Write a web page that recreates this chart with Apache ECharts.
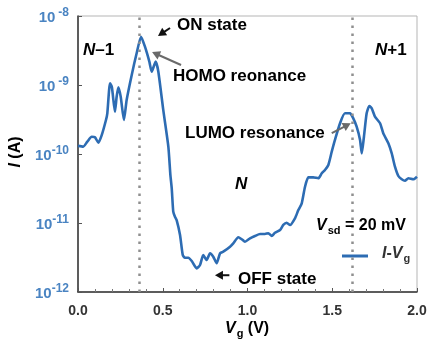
<!DOCTYPE html>
<html>
<head>
<meta charset="utf-8">
<script src="https://cdn.jsdelivr.net/npm/echarts@6/dist/echarts.min.js"></script>
<style>
  html, body { margin: 0; padding: 0; background: #fff; }
  #chart { width: 430px; height: 351px; }
</style>
</head>
<body>
<div id="chart"></div>
<script>
// Gate sweep: gate voltage (V) and drain current (A)
const gateVoltage = [
  0.000, 0.031, 0.055, 0.081, 0.100, 0.120, 0.140, 0.165, 0.173, 0.189,
  0.200, 0.218, 0.228, 0.238, 0.252, 0.271, 0.287, 0.317, 0.346, 0.372,
  0.395, 0.421, 0.435, 0.458, 0.474, 0.503, 0.533,
  0.545, 0.553, 0.562, 0.572, 0.582, 0.602, 0.618, 0.631, 0.651, 0.671,
  0.700, 0.720, 0.739, 0.759, 0.779, 0.798,
  0.818, 0.838, 0.857, 0.897, 0.916, 0.946, 0.966, 0.985, 1.015, 1.044,
  1.074, 1.103, 1.123, 1.143, 1.162, 1.192, 1.211, 1.231, 1.251, 1.280,
  1.300, 1.320, 1.339, 1.359, 1.388, 1.418, 1.438, 1.457, 1.477,
  1.497, 1.516, 1.546, 1.575, 1.605, 1.624, 1.644, 1.664, 1.674, 1.687,
  1.703, 1.719, 1.733, 1.752, 1.782, 1.801, 1.831, 1.851, 1.870, 1.890,
  1.910, 1.929, 1.949, 1.978, 2.000
];
const current = [
  1.31e-10, 1.28e-10, 1.51e-10, 1.78e-10, 1.75e-10, 1.46e-10, 1.88e-10, 3.11e-10, 3.89e-10, 1.06e-9,
  9.27e-10, 4.10e-10, 6.76e-10, 9.27e-10, 6.76e-10, 3.11e-10, 6.07e-10, 1.40e-9, 2.88e-9, 5.01e-9,
  3.59e-9, 2.18e-9, 1.56e-9, 2.18e-9, 1.56e-9, 4.35e-10, 1.28e-10,
  4.97e-11, 3.18e-11, 1.46e-11, 1.23e-11, 1.10e-11, 6.70e-12, 3.44e-12, 3.14e-12, 3.14e-12, 2.81e-12,
  2.20e-12, 2.46e-12, 3.44e-12, 2.91e-12, 3.64e-12, 3.25e-12,
  2.61e-12, 3.64e-12, 3.84e-12, 4.54e-12, 5.08e-12, 6.21e-12, 5.81e-12, 5.36e-12, 6.00e-12, 6.48e-12,
  6.93e-12, 6.93e-12, 7.10e-12, 6.48e-12, 7.22e-12, 7.92e-12, 9.36e-12, 1.01e-11, 9.36e-12, 1.17e-11,
  1.54e-11, 1.93e-11, 3.33e-11, 4.59e-11, 4.59e-11, 4.45e-11, 5.25e-11, 5.86e-11, 6.93e-11,
  1.08e-10, 1.60e-10, 2.79e-10, 3.89e-10, 3.89e-10, 3.29e-10, 2.49e-10, 1.60e-10, 1.02e-10, 1.78e-10,
  3.89e-10, 4.97e-10, 4.59e-10, 3.48e-10, 2.79e-10, 2.00e-10, 1.43e-10, 1.02e-10, 6.55e-11, 4.80e-11,
  4.30e-11, 4.10e-11, 4.45e-11, 4.30e-11, 4.69e-11
];

// Axis ranges and tick labels
const xTickLabels = ['0.0', '0.5', '1.0', '1.5', '2.0'];
const yExponents = [-12, -11, -10, -9, -8];

// Gate voltages of the HOMO and LUMO resonances (dotted guides)
const resonanceVg = [0.362, 1.62];

// Annotation arrows, tail -> head, in (Vg, I) coordinates
const arrowTails = [[0.543, 6.7e-9], [0.608, 1.95e-9], [1.497, 2.0e-10], [0.893, 1.75e-12]];
const arrowHeads = [[0.472, 5.13e-9], [0.437, 3.0e-9], [1.609, 2.79e-10], [0.808, 1.75e-12]];
const arrowColors = ['#111111', '#6a6a6a', '#6a6a6a', '#111111'];

const FONT = '"Liberation Sans", Arial, sans-serif';
const BLUE_TEXT = '#4a84c2';
const LINE_BLUE = '#2d6cb3';

const chart = echarts.init(document.getElementById('chart'), null, { renderer: 'canvas' });

const seriesData = gateVoltage.map((v, i) => [v, current[i]]);

const richBase = (color, size) => ({
  i: { fontFamily: FONT, fontSize: size, fontWeight: 'bold', fontStyle: 'italic', color, lineHeight: 20, verticalAlign: 'top' },
  n: { fontFamily: FONT, fontSize: size, fontWeight: 'bold', color, lineHeight: 20, verticalAlign: 'top' },
  sub: { fontFamily: FONT, fontSize: 11, fontWeight: 'bold', color, lineHeight: 12, padding: [7, 0, 0, 1], verticalAlign: 'top' }
});

chart.setOption({
  animation: false,
  backgroundColor: '#ffffff',
  grid: {
    left: 78, top: 16, right: 13, bottom: 59,
    show: true, borderColor: '#b5b5b5', borderWidth: 1, backgroundColor: 'transparent'
  },
  legend: {
    left: 337, top: 241,
    icon: 'rect', itemWidth: 26, itemHeight: 3, itemGap: 0,
    data: ['I-Vg'],
    formatter: () => '{gap|}{i|I}{n|-}{i|V}{sub|g}',
    textStyle: {
      rich: Object.assign({ gap: { width: 9 } }, richBase('#333', 16))
    }
  },
  xAxis: {
    type: 'value', min: 0, max: 2, interval: 0.5,
    axisLine: { show: true, onZero: false, lineStyle: { color: '#333', width: 1.5 } },
    axisTick: { show: true, inside: true, length: 4, lineStyle: { color: '#555' } },
    minorTick: { show: true, splitNumber: 5, length: 3, lineStyle: { color: '#777' } },
    splitLine: { show: false },
    axisLabel: {
      margin: 12, color: '#333', fontFamily: FONT, fontSize: 14, fontWeight: 'bold',
      formatter: v => xTickLabels[Math.round(v / 0.5)]
    }
  },
  yAxis: {
    type: 'log', logBase: 10, min: 1e-12, max: 1e-8,
    axisLine: { show: true, lineStyle: { color: '#333', width: 1.5 } },
    axisTick: { show: true, inside: true, length: 4, lineStyle: { color: '#555' } },
    splitLine: { show: false },
    axisLabel: {
      margin: 9,
      formatter: v => {
        const e = Math.round(Math.log10(v));
        return '{b|10}' + (e > -10 ? '{sp|' + e + '}' : '{s|' + e + '}');
      },
      rich: {
        b: { fontFamily: FONT, fontSize: 15, fontWeight: 'bold', color: BLUE_TEXT, lineHeight: 18, padding: [4, 0, 0, 0], verticalAlign: 'bottom' },
        s: { fontFamily: FONT, fontSize: 12, fontWeight: 'bold', color: BLUE_TEXT, lineHeight: 12, verticalAlign: 'top' },
        sp: { fontFamily: FONT, fontSize: 12, fontWeight: 'bold', color: BLUE_TEXT, lineHeight: 12, verticalAlign: 'top', padding: [0, 0, 0, 3] }
      }
    }
  },
  series: [{
    name: 'I-Vg',
    type: 'line',
    data: seriesData,
    showSymbol: false,
    smooth: 0.2,
    lineStyle: { color: LINE_BLUE, width: 2.6 },
    itemStyle: { color: LINE_BLUE },
    z: 3,
    markLine: {
      silent: true,
      symbol: ['none', 'none'],
      label: { show: false },
      lineStyle: { color: '#8f8f8f', width: 2.5, type: [2.5, 5.5] },
      data: resonanceVg.map(v => ({ xAxis: v }))
    }
  }]
});

// Text annotations
const label = (x, y, text, rich) => ({
  type: 'text', x, y, z: 10,
  style: { text, rich, align: 'left', verticalAlign: 'middle', fontFamily: FONT, fontSize: 16, fontWeight: 'bold' }
});

function arrowShape(p0, p1, color) {
  const dx = p1[0] - p0[0], dy = p1[1] - p0[1];
  const len = Math.hypot(dx, dy);
  const ux = dx / len, uy = dy / len;
  const hl = 8, hw = 4.5;
  const bx = p1[0] - ux * hl, by = p1[1] - uy * hl;
  return [
    { type: 'line', z: 10, shape: { x1: p0[0], y1: p0[1], x2: bx + ux * 1.5, y2: by + uy * 1.5 }, style: { stroke: color, lineWidth: 2 } },
    { type: 'polygon', z: 10, shape: { points: [[p1[0], p1[1]], [bx - uy * hw, by + ux * hw], [bx + uy * hw, by - ux * hw]] }, style: { fill: color } }
  ];
}

const arrows = [];
arrowTails.forEach((t, k) => {
  const p0 = chart.convertToPixel({ gridIndex: 0 }, t);
  const p1 = chart.convertToPixel({ gridIndex: 0 }, arrowHeads[k]);
  arrows.push(...arrowShape(p0, p1, arrowColors[k]));
});

const gray = '#6a6a6a';
chart.setOption({
  graphic: [
    // y-axis title
    {
      type: 'text', x: 16, y: 152, rotation: Math.PI / 2, z: 10,
      style: {
        text: '{i|I}{n| (A)}', align: 'center', verticalAlign: 'middle',
        rich: {
          i: { fontFamily: FONT, fontSize: 16, fontWeight: 'bold', fontStyle: 'italic', color: BLUE_TEXT },
          n: { fontFamily: FONT, fontSize: 16, fontWeight: 'bold', color: BLUE_TEXT }
        }
      }
    },
    // x-axis title
    label(225, 331, '{i|V}{sub|g}{n| (V)}', richBase('#333', 16)),
    label(177, 27, '{n|ON state}', richBase('#111', 17)),
    label(173, 78, '{n|HOMO reonance}', richBase(gray, 17)),
    label(185, 135, '{n|LUMO resonance}', richBase(gray, 17)),
    label(238, 281, '{n|OFF state}', richBase('#111', 17)),
    label(83, 52, '{i|N}{n|–1}', richBase(gray, 17)),
    label(375, 52, '{i|N}{n|+1}', richBase(gray, 17)),
    label(235, 186, '{i|N}', richBase(gray, 17)),
    label(316, 228, '{i|V}{sub|sd}{n| = 20 mV}', richBase('#333', 16)),
    ...arrows
  ]
});
</script>
</body>
</html>
